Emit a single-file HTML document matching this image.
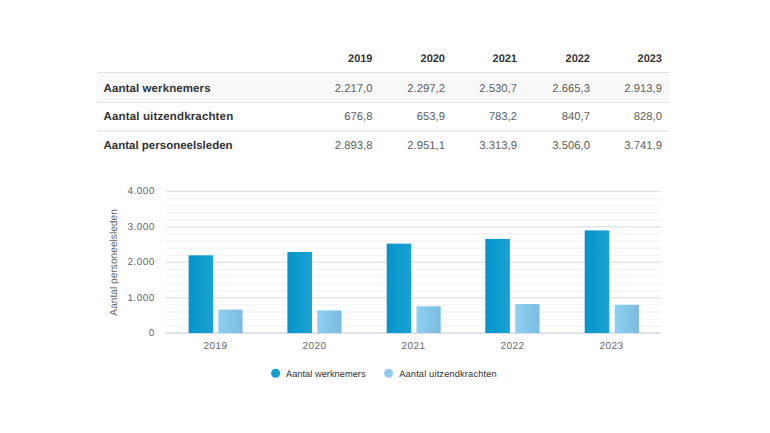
<!DOCTYPE html>
<html><head><meta charset="utf-8">
<style>
html,body{margin:0;padding:0;background:#fff;width:770px;height:433px;overflow:hidden}
svg{position:absolute;left:0;top:0}
text{font-family:"Liberation Sans",sans-serif;text-rendering:geometricPrecision}
.h{font-weight:bold;font-size:11px;fill:#333}
.rh{font-weight:bold;font-size:11.5px;fill:#333;letter-spacing:0.1px}
.v{font-size:11.3px;fill:#606060}
.yl{font-size:10px;fill:#666;letter-spacing:0.4px;text-rendering:geometricPrecision}
.xl{font-size:10px;fill:#666;letter-spacing:0.45px;text-rendering:geometricPrecision}
.lg{font-size:9.3px;fill:#333}
</style></head><body>
<svg width="770" height="433" viewBox="0 0 770 433">
<defs>
<linearGradient id="g1" x1="0" y1="0" x2="1" y2="0"><stop offset="0" stop-color="#0394ca"/><stop offset="1" stop-color="#1ba3d1"/></linearGradient>
<linearGradient id="g2" x1="0" y1="0" x2="1" y2="0"><stop offset="0" stop-color="#8fcff0"/><stop offset="1" stop-color="#7bbbe0"/></linearGradient>
</defs>
<rect x="97" y="72" width="572" height="30" fill="#f9f9f9"/>
<rect x="97" y="72" width="572" height="1" fill="#e2e2e2"/>
<rect x="97" y="102" width="572" height="1.05" fill="#e2e2e2"/>
<rect x="97" y="130.4" width="572" height="1.1" fill="#e2e2e2"/>
<g class="h" text-anchor="end">
<text x="372.5" y="61.6">2019</text>
<text x="445" y="61.6">2020</text>
<text x="517" y="61.6">2021</text>
<text x="590" y="61.6">2022</text>
<text x="662" y="61.6">2023</text>
</g><g class="rh">
<text x="103.5" y="91.6" letter-spacing="0.1">Aantal werknemers</text>
<text x="103.5" y="120.2" letter-spacing="0.15">Aantal uitzendkrachten</text>
<text x="103.5" y="149.0" letter-spacing="0">Aantal personeelsleden</text>
</g><g class="v" text-anchor="end">
<text x="372.5" y="91.6">2.217,0</text>
<text x="445" y="91.6">2.297,2</text>
<text x="517" y="91.6">2.530,7</text>
<text x="590" y="91.6">2.665,3</text>
<text x="662" y="91.6">2.913,9</text>
<text x="372.5" y="120.2">676,8</text>
<text x="445" y="120.2">653,9</text>
<text x="517" y="120.2">783,2</text>
<text x="590" y="120.2">840,7</text>
<text x="662" y="120.2">828,0</text>
<text x="372.5" y="149.0">2.893,8</text>
<text x="445" y="149.0">2.951,1</text>
<text x="517" y="149.0">3.313,9</text>
<text x="590" y="149.0">3.506,0</text>
<text x="662" y="149.0">3.741,9</text>
</g>
<rect x="166" y="325.50" width="495" height="1.4" fill="#f3f3f3"/>
<rect x="166" y="318.40" width="495" height="1.4" fill="#f3f3f3"/>
<rect x="166" y="311.30" width="495" height="1.4" fill="#f3f3f3"/>
<rect x="166" y="304.20" width="495" height="1.4" fill="#f3f3f3"/>
<rect x="166" y="297.10" width="495" height="1.4" fill="#e4e4e4"/>
<rect x="166" y="290.00" width="495" height="1.4" fill="#f3f3f3"/>
<rect x="166" y="282.90" width="495" height="1.4" fill="#f3f3f3"/>
<rect x="166" y="275.80" width="495" height="1.4" fill="#f3f3f3"/>
<rect x="166" y="268.70" width="495" height="1.4" fill="#f3f3f3"/>
<rect x="166" y="261.60" width="495" height="1.4" fill="#e4e4e4"/>
<rect x="166" y="254.50" width="495" height="1.4" fill="#f3f3f3"/>
<rect x="166" y="247.40" width="495" height="1.4" fill="#f3f3f3"/>
<rect x="166" y="240.30" width="495" height="1.4" fill="#f3f3f3"/>
<rect x="166" y="233.20" width="495" height="1.4" fill="#f3f3f3"/>
<rect x="166" y="226.10" width="495" height="1.4" fill="#e4e4e4"/>
<rect x="166" y="219.00" width="495" height="1.4" fill="#f3f3f3"/>
<rect x="166" y="211.90" width="495" height="1.4" fill="#f3f3f3"/>
<rect x="166" y="204.80" width="495" height="1.4" fill="#f3f3f3"/>
<rect x="166" y="197.70" width="495" height="1.4" fill="#f3f3f3"/>
<rect x="166" y="190.60" width="495" height="1.4" fill="#e4e4e4"/>
<rect x="166" y="332.00" width="495" height="1" fill="#e6e6e6"/>
<g fill="url(#g1)">
<rect x="188.6" y="255.3" width="24.6" height="77.70"/>
<rect x="287.4" y="252.0" width="24.6" height="81.00"/>
<rect x="386.7" y="243.6" width="24.6" height="89.40"/>
<rect x="485.3" y="238.9" width="24.6" height="94.10"/>
<rect x="584.7" y="230.4" width="24.6" height="102.60"/>
</g><g fill="url(#g2)">
<rect x="218.3" y="309.6" width="24.2" height="23.40"/>
<rect x="317.3" y="310.4" width="24.2" height="22.60"/>
<rect x="416.5" y="306.3" width="24.2" height="26.70"/>
<rect x="515.3" y="304.1" width="24.2" height="28.90"/>
<rect x="614.7" y="304.8" width="24.2" height="28.20"/>
</g>
<rect x="166" y="333.00" width="495" height="1" fill="#d9dde9"/>
<g class="yl" text-anchor="end">
<text x="154.6" y="336.30">0</text>
<text x="154.6" y="300.80">1.000</text>
<text x="154.6" y="265.30">2.000</text>
<text x="154.6" y="229.80">3.000</text>
<text x="154.6" y="194.30">4.000</text>
</g>
<text class="yl" transform="translate(117.3,262.4) rotate(-90)" text-anchor="middle" style="font-size:10.2px;letter-spacing:0">Aantal personeelsleden</text>
<g class="xl" text-anchor="middle">
<text x="215.50" y="349">2019</text>
<text x="314.50" y="349">2020</text>
<text x="413.50" y="349">2021</text>
<text x="512.50" y="349">2022</text>
<text x="611.50" y="349">2023</text>
</g>
<circle cx="275.6" cy="373.2" r="4.5" fill="#149dd3"/>
<text class="lg" x="286" y="376.7">Aantal werknemers</text>
<circle cx="388.6" cy="373.3" r="4.5" fill="#8ecbee"/>
<text class="lg" x="399.2" y="376.7" letter-spacing="0.14">Aantal uitzendkrachten</text>
</svg>
</body></html>
